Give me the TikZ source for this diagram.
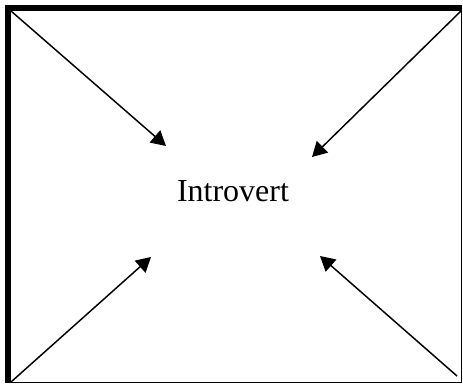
\documentclass[tikz,border=0pt]{standalone}
\usepackage{fontspec}
\setmainfont{Liberation Serif}
\usetikzlibrary{arrows.meta}

\begin{document}
\begin{tikzpicture}[x=0.75pt,y=-0.75pt,
  pointer/.style={line width=1.1pt,-{Triangle[length=11pt,width=12pt]}}]
 \useasboundingbox (0,0) rectangle (463,385);
 % frame: thin right and bottom, thick top and left
 \draw[line width=1.1pt] (461.5,8) -- (461.5,382.5) -- (8,382.5);
 \draw[line width=4.5pt] (8,382.5) -- (8,8) -- (462.2,8);
 % corners and arrow tips
 \coordinate (cTL) at (11,11);  \coordinate (cTR) at (461,11);
 \coordinate (cBL) at (11,382); \coordinate (cBR) at (457,376);
 \coordinate (tTL) at (166,146); \coordinate (tTR) at (312,157);
 \coordinate (tBL) at (151,257); \coordinate (tBR) at (320,256);
 \node[font=\fontsize{24}{28}\selectfont] (intro) at (233,191) {Introvert};
 \foreach \c in {TL,TR,BL,BR}{\draw[pointer] (c\c) -- (t\c);}
\end{tikzpicture}
\end{document}
